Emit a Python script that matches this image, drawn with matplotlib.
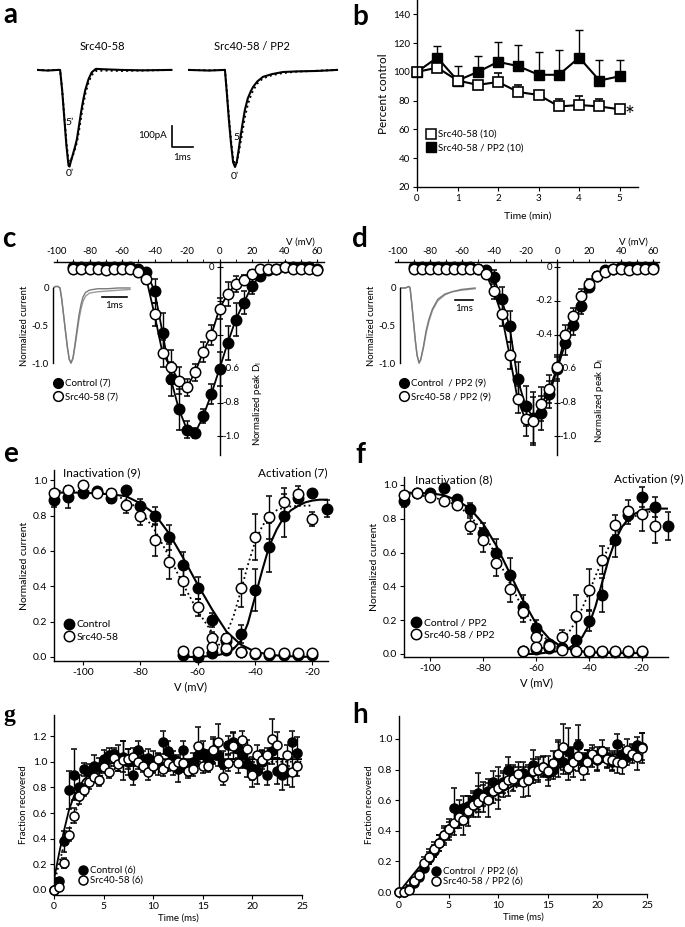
import numpy as np
import matplotlib.pyplot as plt
from matplotlib.lines import Line2D
from matplotlib.ticker import MultipleLocator, FormatStrFormatter

plt.rcParams['font.family'] = ['Lato', 'DejaVu Sans']
plt.rcParams['axes.unicode_minus'] = False
plt.rcParams['axes.linewidth'] = 1.0

# ---------------- data ----------------
# a: example currents (ms, pA), 0' solid and 5' dotted
a_t = [0, 0.5, 1.0, 1.1, 1.2, 1.3, 1.4, 1.5, 1.55, 1.6, 1.7, 1.8, 1.9, 2.0, 2.1, 2.2, 2.3, 2.45, 2.6, 2.8, 3.2, 4.0, 5.0, 6.4]
a_i0 = [0, -3, 0, 0, -100, -230, -360, -455, -460, -440, -405, -370, -330, -265, -200, -143, -95, -45, -12, 5, 3, 0, -2, 0]
a_i5 = [0, -2, 0, 0, -95, -220, -345, -430, -438, -432, -410, -380, -345, -290, -225, -165, -115, -60, -25, -5, -3, -5, -3, 0]
pp2_t = [0, 1.0, 1.76, 1.85, 1.95, 2.05, 2.15, 2.24, 2.32, 2.4, 2.48, 2.6, 2.71, 2.85, 3.0, 3.1, 3.3, 3.57, 4.0, 4.52, 5.2, 6.14, 7.1]
pp2_i0 = [0, -3, 0, -110, -240, -350, -440, -462, -440, -390, -333, -255, -190, -135, -100, -81, -55, -33, -20, -10, -7, -5, 0]
pp2_i5 = [0, -2, 0, -100, -225, -335, -425, -450, -440, -405, -360, -290, -225, -165, -120, -98, -65, -40, -25, -15, -8, -4, 0]

# b: percent control over time
b_t = [0, 0.5, 1, 1.5, 2, 2.5, 3, 3.5, 4, 4.5, 5]
b_src = [100, 103, 94, 91, 93, 86, 84, 76, 77, 76, 74]
b_src_err = [0, 0, 0, 0, 6, 5, 0, 5, 6, 5, 3]
b_pp2 = [100, 110, 94, 100, 107, 104, 98, 98, 110, 94, 97]
b_pp2_err = [0, 8, 10, 11, 14, 15, 16, 17, 19, 14, 11]

# c, d: I-V relations
iv_v = list(range(-90, 65, 5))
iv_yticks = [0, -0.2, -0.4, -0.6, -0.8, -1.0]
c_ylabels = ['0', '', '', '-0.6', '-0.8', '-1.0']
d_ylabels = ['0', '-0.2', '-0.4', '-0.6', '-0.8', '-1.0']
c_ctrl = [0, 0, 0, 0, 0, 0, 0, 0, -0.01, -0.03, -0.14, -0.39, -0.66, -0.84, -0.96, -0.98, -0.88, -0.75,
          -0.60, -0.45, -0.31, -0.21, -0.11, -0.05, -0.02, -0.01, 0, 0, 0, 0, -0.01]
c_ctrl_err = [0, 0, 0, 0, 0, 0, 0, 0, 0.01, 0.02, 0.07, 0.12, 0.10, 0.12, 0.05, 0.03, 0.04, 0.06,
              0.10, 0.10, 0.10, 0.07, 0.05, 0.02, 0.01, 0, 0, 0, 0, 0, 0]
c_src = [-0.01, -0.01, -0.01, -0.01, -0.02, -0.01, -0.01, -0.01, -0.03, -0.07, -0.28, -0.51, -0.59, -0.67,
         -0.71, -0.62, -0.50, -0.40, -0.245, -0.16, -0.10, -0.075, -0.04, -0.01, -0.01, -0.01, 0, -0.01,
         -0.01, -0.01, -0.02]
c_src_err = [0, 0, 0, 0, 0, 0, 0, 0, 0.01, 0.03, 0.07, 0.08, 0.10, 0.08, 0.05, 0.05, 0.06, 0.06,
             0.06, 0.07, 0.05, 0.03, 0.02, 0, 0, 0, 0, 0, 0, 0, 0]
d_ctrl = [0, 0, 0, 0, 0, 0, 0, 0, -0.01, -0.02, -0.06, -0.19, -0.35, -0.66, -0.82, -0.89, -0.86, -0.75,
          -0.60, -0.45, -0.34, -0.23, -0.12, -0.05, -0.02, -0.01, 0, 0, 0, 0, 0]
d_ctrl_err = [0, 0, 0, 0, 0, 0, 0, 0, 0.01, 0.02, 0.04, 0.07, 0.09, 0.10, 0.12, 0.15, 0.10, 0.08,
              0.07, 0.07, 0.06, 0.05, 0.03, 0.02, 0.01, 0, 0, 0, 0, 0, 0]
d_src = [-0.01, -0.01, -0.01, -0.01, -0.01, -0.01, -0.01, -0.01, -0.01, -0.04, -0.14, -0.28, -0.52, -0.78,
         -0.90, -0.91, -0.81, -0.72, -0.59, -0.40, -0.29, -0.17, -0.10, -0.05, -0.03, -0.01, -0.01, -0.02,
         -0.01, -0.01, -0.01]
d_src_err = [0, 0, 0, 0, 0, 0, 0, 0, 0.01, 0.02, 0.05, 0.07, 0.08, 0.08, 0.10, 0.14, 0.10, 0.08,
             0.07, 0.06, 0.05, 0.04, 0.03, 0.02, 0.01, 0, 0, 0, 0, 0, 0]

# insets of c, d (ms, normalized)
ci_t = [0, 0.1, 0.2, 0.28, 0.35, 0.42, 0.5, 0.58, 0.65, 0.72, 0.8, 0.88, 0.96, 1.04, 1.12, 1.2, 1.3, 1.45, 1.6, 1.8, 2.2, 2.6, 3.08]
ci_1 = [0, 0.02, 0.02, 0, -0.15, -0.35, -0.58, -0.8, -0.95, -1.0, -0.93, -0.75, -0.55, -0.36, -0.22, -0.12, -0.06, -0.03, -0.02, -0.01, -0.01, 0, 0]
ci_2 = [0, 0.02, 0.02, 0, -0.15, -0.35, -0.58, -0.8, -0.95, -1.0, -0.94, -0.78, -0.6, -0.42, -0.28, -0.18, -0.11, -0.07, -0.06, -0.05, -0.04, -0.03, -0.02]
di_t = [0, 0.3, 0.5, 0.56, 0.65, 0.75, 0.85, 0.95, 1.06, 1.15, 1.3, 1.45, 1.6, 1.8, 2.1, 2.5, 2.9, 3.4, 4.17]
di_1 = [0, 0, 0.02, 0, -0.2, -0.45, -0.7, -0.9, -1.0, -0.95, -0.78, -0.57, -0.42, -0.28, -0.15, -0.08, -0.05, -0.02, 0]
di_2 = [0, 0, 0.02, 0, -0.2, -0.45, -0.7, -0.9, -1.0, -0.96, -0.8, -0.6, -0.45, -0.3, -0.17, -0.09, -0.05, -0.03, -0.01]

# e, f: inactivation / activation
inact_v = list(range(-110, -15, 5))
e_inact_ctrl = [0.89, 0.905, 0.93, 0.94, 0.90, 0.943, 0.853, 0.796, 0.677, 0.523, 0.39, 0.208, 0.09, 0.03, 0.015, 0.01, 0.01, 0.01, 0.01]
e_inact_ctrl_err = [0.04, 0.06, 0, 0, 0.03, 0, 0.04, 0.05, 0.07, 0.07, 0.06, 0.04, 0.02, 0, 0, 0, 0, 0, 0]
e_inact_src = [0.93, 0.947, 0.975, 0.93, 0.93, 0.862, 0.796, 0.664, 0.54, 0.43, 0.28, 0.11, 0.05, 0.03, 0.02, 0.02, 0.022, 0.022, 0.02]
e_inact_src_err = [0, 0, 0, 0.02, 0.02, 0.05, 0.05, 0.09, 0.10, 0.08, 0.05, 0.03, 0, 0, 0, 0, 0, 0, 0]
e_act_v = list(range(-65, -10, 5))
e_act_ctrl = [0.01, 0.0, 0.02, 0.04, 0.13, 0.38, 0.62, 0.80, 0.90, 0.925, 0.84]
e_act_ctrl_err = [0, 0, 0, 0.02, 0.05, 0.12, 0.14, 0.12, 0.0, 0.02, 0.05]
e_act_src = [0.036, 0.03, 0.055, 0.11, 0.39, 0.68, 0.79, 0.877, 0.92, 0.78]
e_act_src_err = [0, 0, 0, 0.02, 0.11, 0.13, 0.12, 0.08, 0.05, 0.04]
e_fit_inact_ctrl = [0.93, 0.93, 0.93, 0.925, 0.92, 0.91, 0.87, 0.81, 0.70, 0.56, 0.41, 0.27, 0.145, 0.07, 0.03, 0.013, 0.005, 0.002, 0.0]
e_fit_inact_src = [0.94, 0.94, 0.94, 0.935, 0.92, 0.89, 0.83, 0.72, 0.57, 0.41, 0.26, 0.14, 0.07, 0.03, 0.01, 0.005, 0.0, 0.0, 0.0]
e_fit_act_v = [-65, -62.5, -60, -57.5, -55, -52.5, -50, -47.5, -45, -42.5, -40, -37.5, -35, -32.5, -30, -27.5, -25, -22.5, -20, -17.5, -15]
e_fit_act_ctrl = [0.0, 0.0, 0.0, 0.003, 0.006, 0.012, 0.022, 0.045, 0.09, 0.19, 0.34, 0.49, 0.63, 0.72, 0.79, 0.83, 0.855, 0.875, 0.885, 0.89, 0.89]
e_fit_act_src = [0.0, 0.003, 0.006, 0.015, 0.035, 0.07, 0.13, 0.23, 0.37, 0.52, 0.65, 0.74, 0.80, 0.83, 0.845, 0.852, 0.855, 0.856, 0.857]

f_inact_ctrl = [0.907, 0.95, 0.955, 0.98, 0.915, 0.856, 0.714, 0.60, 0.467, 0.28, 0.152, 0.06, 0.037, 0.015, 0.01, 0.01, 0.01, 0.01, 0.01]
f_inact_ctrl_err = [0.04, 0, 0, 0, 0, 0.04, 0.06, 0.08, 0.10, 0.07, 0.05, 0.02, 0.02, 0, 0, 0, 0, 0, 0]
f_inact_src = [0.94, 0.95, 0.93, 0.907, 0.88, 0.757, 0.675, 0.54, 0.387, 0.25, 0.10, 0.04, 0.025, 0.015, 0.015, 0.015, 0.015, 0.015, 0.015]
f_inact_src_err = [0, 0, 0, 0, 0, 0.05, 0.07, 0.08, 0.08, 0.06, 0.04, 0.03, 0, 0, 0, 0, 0, 0, 0]
f_act_v = list(range(-65, -5, 5))
f_act_ctrl = [0.02, 0.03, 0.035, 0.037, 0.083, 0.197, 0.35, 0.675, 0.82, 0.927, 0.87, 0.757]
f_act_ctrl_err = [0, 0, 0, 0.01, 0.02, 0.06, 0.10, 0.10, 0.05, 0.06, 0.06, 0.08]
f_act_src = [0.02, 0.04, 0.047, 0.10, 0.227, 0.38, 0.556, 0.763, 0.848, 0.83, 0.757]
f_act_src_err = [0, 0, 0, 0.04, 0.12, 0.12, 0.08, 0.06, 0.06, 0.10, 0.10]
f_fit_inact_ctrl = [0.955, 0.953, 0.95, 0.94, 0.91, 0.86, 0.77, 0.64, 0.48, 0.32, 0.18, 0.09, 0.04, 0.02, 0.01, 0.007, 0.005, 0.005, 0.005]
f_fit_inact_src = [0.95, 0.94, 0.93, 0.91, 0.88, 0.82, 0.72, 0.58, 0.42, 0.27, 0.15, 0.07, 0.03, 0.015, 0.012, 0.01, 0.01, 0.01, 0.01]
f_fit_act_v = [-65, -62.5, -60, -57.5, -55, -52.5, -50, -47.5, -45, -42.5, -40, -37.5, -35, -32.5, -30, -27.5, -25, -22.5, -20, -17.5, -15, -12.5, -10]
f_fit_act_ctrl = [0.0, 0.0, 0.0, 0.005, 0.01, 0.015, 0.022, 0.035, 0.06, 0.10, 0.17, 0.28, 0.42, 0.56, 0.67, 0.75, 0.80, 0.83, 0.85, 0.855, 0.86, 0.86, 0.86]
f_fit_act_src = [0.02, 0.025, 0.03, 0.035, 0.045, 0.06, 0.085, 0.13, 0.19, 0.27, 0.36, 0.46, 0.55, 0.63, 0.70, 0.75, 0.79, 0.815, 0.83, 0.84, 0.845]

# g, h: recovery from inactivation
rec_t = np.arange(0, 25, 0.5)
g_ctrl = [0.00, 0.07, 0.38, 0.78, 0.90, 0.80, 0.94, 0.92, 0.97, 0.96,
          1.02, 1.05, 1.06, 1.03, 1.04, 1.00, 0.90, 1.09, 1.02, 1.03,
          1.00, 0.98, 1.15, 1.08, 1.02, 0.94, 1.09, 0.95, 1.00, 1.05,
          1.07, 1.02, 1.08, 1.05, 0.98, 1.13, 1.15, 1.10, 1.05, 0.98,
          0.95, 0.93, 1.00, 0.90, 1.08, 0.93, 0.90, 0.92, 1.15, 1.07]
g_ctrl_err = [0, 0.02, 0.08, 0.15, 0.20, 0.10, 0.05, 0.06, 0.08, 0.07,
              0.07, 0.06, 0.05, 0.10, 0.12, 0.10, 0.08, 0.07, 0.06, 0.07,
              0.08, 0.08, 0.09, 0.08, 0.06, 0.10, 0.07, 0.06, 0.07, 0.08,
              0.09, 0.07, 0.10, 0.08, 0.10, 0.07, 0.08, 0.07, 0.10, 0.10,
              0.09, 0.10, 0.09, 0.08, 0.10, 0.10, 0.12, 0.10, 0.09, 0.12]
g_src = [0.00, 0.02, 0.21, 0.43, 0.58, 0.73, 0.78, 0.84, 0.88, 0.86,
         0.96, 0.92, 1.03, 0.98, 1.01, 1.02, 1.04, 1.00, 0.97, 0.92,
         0.97, 1.02, 0.94, 0.99, 0.97, 1.00, 0.99, 0.93, 0.94, 1.12,
         0.97, 0.97, 1.09, 1.15, 0.88, 0.99, 1.12, 0.99, 1.17, 1.10,
         0.90, 1.05, 1.01, 1.05, 1.18, 1.13, 0.95, 1.05, 0.92, 0.97]
g_src_err = [0, 0.01, 0.04, 0.05, 0.06, 0.06, 0.05, 0.05, 0.04, 0.05,
             0.05, 0.05, 0.06, 0.05, 0.15, 0.08, 0.07, 0.06, 0.05, 0.06,
             0.06, 0.05, 0.05, 0.06, 0.07, 0.05, 0.07, 0.06, 0.05, 0.15,
             0.06, 0.05, 0.10, 0.14, 0.06, 0.06, 0.10, 0.08, 0.07, 0.07,
             0.10, 0.08, 0.07, 0.06, 0.15, 0.10, 0.07, 0.08, 0.12, 0.08]
g_fit_t = [0, 0.5, 1, 1.5, 2, 2.5, 3, 4, 5, 6, 7, 8, 10, 12, 15, 20, 25]
g_fit_ctrl = [0.08, 0.28, 0.46, 0.62, 0.73, 0.80, 0.86, 0.93, 0.97, 0.99, 1.0, 1.01, 1.02, 1.02, 1.02, 1.02, 1.02]
g_fit_src = [0.05, 0.2, 0.35, 0.47, 0.58, 0.67, 0.74, 0.84, 0.9, 0.94, 0.97, 0.98, 1.0, 1.0, 1.0, 1.0, 1.0]

h_ctrl = [0.00, 0.00, 0.02, 0.06, 0.10, 0.16, 0.22, 0.27, 0.32, 0.37,
          0.41, 0.55, 0.52, 0.55, 0.56, 0.60, 0.65, 0.63, 0.66, 0.72,
          0.68, 0.72, 0.80, 0.76, 0.76, 0.78, 0.76, 0.83, 0.80, 0.82,
          0.78, 0.80, 0.87, 0.85, 0.92, 0.87, 0.96, 0.85, 0.88, 0.88,
          0.86, 0.90, 0.88, 0.85, 0.97, 0.90, 0.88, 0.92, 0.96, 0.95]
h_ctrl_err = [0, 0, 0.01, 0.02, 0.03, 0.03, 0.04, 0.04, 0.05, 0.05,
              0.05, 0.13, 0.08, 0.08, 0.07, 0.06, 0.13, 0.07, 0.08, 0.07,
              0.14, 0.07, 0.08, 0.07, 0.06, 0.07, 0.06, 0.10, 0.07, 0.06,
              0.05, 0.06, 0.12, 0.08, 0.15, 0.07, 0.13, 0.06, 0.05, 0.06,
              0.06, 0.05, 0.06, 0.06, 0.06, 0.06, 0.05, 0.05, 0.05, 0.09]
h_src = [0.00, 0.00, 0.01, 0.07, 0.11, 0.19, 0.23, 0.28, 0.32, 0.37,
         0.41, 0.45, 0.49, 0.47, 0.53, 0.57, 0.59, 0.62, 0.60, 0.66,
         0.68, 0.70, 0.73, 0.74, 0.77, 0.72, 0.73, 0.79, 0.80, 0.82,
         0.79, 0.84, 0.90, 0.95, 0.81, 0.85, 0.89, 0.80, 0.85, 0.90,
         0.87, 0.92, 0.87, 0.86, 0.85, 0.84, 0.93, 0.90, 0.88, 0.94]
h_src_err = [0, 0, 0.01, 0.02, 0.03, 0.04, 0.05, 0.05, 0.05, 0.06,
             0.07, 0.08, 0.07, 0.10, 0.10, 0.08, 0.10, 0.10, 0.11, 0.08,
             0.08, 0.08, 0.10, 0.08, 0.08, 0.10, 0.10, 0.08, 0.08, 0.07,
             0.10, 0.08, 0.08, 0.15, 0.08, 0.10, 0.10, 0.07, 0.08, 0.06,
             0.08, 0.07, 0.06, 0.06, 0.07, 0.07, 0.07, 0.06, 0.08, 0.10]
h_fit_t = [0, 1, 2, 3, 4, 5, 6, 7, 8, 9, 10, 12, 14, 16, 18, 20, 22, 25]
h_fit_ctrl = [0.0, 0.08, 0.16, 0.24, 0.31, 0.38, 0.44, 0.5, 0.55, 0.6, 0.64, 0.71, 0.77, 0.81, 0.85, 0.88, 0.90, 0.93]
h_fit_src = [0.0, 0.06, 0.14, 0.22, 0.29, 0.36, 0.42, 0.48, 0.53, 0.58, 0.62, 0.69, 0.75, 0.80, 0.84, 0.87, 0.89, 0.92]

# ---------------- layout helpers ----------------
W, H = 685, 927
fig = plt.figure(figsize=(W / 100, H / 100), dpi=100)


def box(x0, y0, x1, y1):
    return [x0 / W, 1 - y1 / H, (x1 - x0) / W, (y1 - y0) / H]


def fx(x):
    return x / W


def fy(y):
    return 1 - y / H


def plain(ax, fs):
    ax.spines['top'].set_visible(False)
    ax.spines['right'].set_visible(False)
    ax.tick_params(direction='out', length=3, width=0.8, labelsize=fs, pad=2)


def pts(ax, x, y, err, filled, ms, line=False, lw=1.3):
    ax.errorbar(x, y, yerr=err, fmt='-o' if line else 'o', color='k', lw=lw,
                mfc='k' if filled else 'white', mec='k', ms=ms, mew=1.1,
                elinewidth=1, capsize=2.5, capthick=1, clip_on=False, zorder=4 if filled else 5)


def legend(labels, x, y, ms, fs, sp):
    hs = [Line2D([], [], marker='o', ls='none', mfc='k', mec='k', ms=ms),
          Line2D([], [], marker='o', ls='none', mfc='white', mec='k', ms=ms, mew=1.1)]
    fig.legend(hs, labels, loc='upper left', bbox_to_anchor=(fx(x), fy(y)), frameon=False,
               fontsize=fs, handlelength=1.0, handletextpad=0.2, borderpad=0, borderaxespad=0,
               labelspacing=sp)


for lab, x, y, fam, fs in [('a', 3, 23, None, 20), ('b', 352, 25, None, 20), ('c', 2, 247, None, 20),
                           ('d', 352, 247, None, 20), ('e', 3, 462, None, 20), ('f', 355, 463, None, 20),
                           ('g', 3, 721, 'Liberation Serif', 17), ('h', 352, 723, None, 20)]:
    kw = {'family': fam} if fam else {}
    fig.text(fx(x), fy(y), lab, fontsize=fs, fontweight='bold', va='baseline', **kw)

# ---------------- a ----------------
axa1 = fig.add_axes(box(37, 55, 200, 180))
axa2 = fig.add_axes(box(188, 55, 345, 180))
for ax in (axa1, axa2):
    ax.set_ylim(-524, 71)
    ax.axis('off')
axa1.set_xlim(0, 7.76)
axa2.set_xlim(0, 7.48)
axa1.plot(a_t, a_i5, color='k', ls=':', lw=1.4)
axa1.plot(a_t, a_i0, color='k', lw=1.5)
axa2.plot(pp2_t, pp2_i5, color='k', ls=':', lw=1.4)
axa2.plot(pp2_t, pp2_i0, color='k', lw=1.5)
axa1.plot([6.43, 6.43, 7.43], [-267, -367, -367], color='k', lw=1.2, clip_on=False)
axa1.text(6.2, -314, '100pA', ha='right', va='center', fontsize=7)
axa1.text(6.93, -418, '1ms', ha='center', va='center', fontsize=7)
axa1.text(1.57, -252, '5\u2019', ha='center', va='center', fontsize=7.5)
axa1.text(1.57, -495, '0\u2019', ha='center', va='center', fontsize=7.5)
axa2.text(2.35, -324, '5\u2019', ha='center', va='center', fontsize=7.5)
axa2.text(2.24, -505, '0\u2019', ha='center', va='center', fontsize=7.5)
fig.text(fx(102), fy(47), 'Src40-58', ha='center', va='center', fontsize=8)
fig.text(fx(252), fy(47), 'Src40-58 / PP2', ha='center', va='center', fontsize=8)

# ---------------- b ----------------
axb = fig.add_axes(box(417, 0, 638, 187))
plain(axb, 7)
zeros = [0] * len(b_t)
axb.errorbar(b_t, b_pp2, yerr=[zeros, b_pp2_err], fmt='-s', color='k', mfc='k', mec='k', ms=6.5,
             lw=1.5, elinewidth=1, capsize=3, capthick=1, clip_on=False)
axb.errorbar(b_t, b_src, yerr=[zeros, b_src_err], fmt='-s', color='k', mfc='white', mec='k', ms=6.5,
             mew=1.2, lw=1.5, elinewidth=1, capsize=3, capthick=1, clip_on=False)
axb.set_xlim(0, 5.45)
axb.set_ylim(20, 150)
axb.set_xticks([0, 1, 2, 3, 4, 5])
axb.set_yticks(range(20, 141, 20))
axb.set_ylabel('Percent control', fontsize=8.5, labelpad=3)
axb.set_xlabel('Time (min)', fontsize=7.5, labelpad=6)
axb.text(5.25, 70, '*', fontsize=17, ha='center', va='center')
hb = [Line2D([], [], marker='s', ls='none', mfc='white', mec='k', ms=6.5, mew=1.1),
      Line2D([], [], marker='s', ls='none', mfc='k', mec='k', ms=6.5)]
fig.legend(hb, ['Src40-58 (10)', 'Src40-58 / PP2 (10)'], loc='upper left',
           bbox_to_anchor=(fx(427), fy(130)), frameon=False, fontsize=7, handlelength=0.9,
           handletextpad=0.2, borderpad=0, borderaxespad=0, labelspacing=0.45)


# ---------------- c, d ----------------
def iv_panel(rect, ctrl, ctrl_err, src, src_err, ylabels, inset_rect, ins_xmax, ins_t, ins_1, ins_2, bar, vlab, dlab):
    ax = fig.add_axes(rect)
    ax.set_xlim(-102, 64)
    ax.set_ylim(-1.11, 0.03)
    ax.spines['right'].set_visible(False)
    ax.spines['bottom'].set_visible(False)
    ax.spines['left'].set_position(('data', 0))
    ax.xaxis.set_ticks_position('top')
    ax.set_xticks(range(-100, 61, 20))
    ax.xaxis.set_minor_locator(MultipleLocator(10))
    ax.tick_params(axis='x', which='both', direction='out', length=2.5, labelsize=7, pad=1.5)
    ax.set_yticks(iv_yticks)
    ax.tick_params(axis='y', direction='inout', length=4, labelleft=False)
    for v, lab in zip(iv_yticks, ylabels):
        if v > -0.5:
            ax.text(-3, v, lab, ha='right', va='center', fontsize=7, zorder=1)
        else:
            ax.text(1.5, v, lab, ha='left', va='center', fontsize=7, zorder=1)
    pts(ax, iv_v, ctrl, ctrl_err, True, 7.5, line=True)
    pts(ax, iv_v, src, src_err, False, 7.5, line=True)
    fig.text(fx(vlab[0]), fy(vlab[1]), 'V (mV)', ha='center', va='center', fontsize=7)
    fig.text(fx(dlab[0]), fy(dlab[1]), 'Normalized peak D$_\\mathrm{I}$', rotation=90,
             ha='center', va='center', fontsize=7)

    ai = fig.add_axes(inset_rect)
    ai.set_xlim(0, ins_xmax)
    ai.set_ylim(-1.053, 0.053)
    for s in ('top', 'right', 'bottom'):
        ai.spines[s].set_visible(False)
    ai.spines['left'].set_bounds(-1.0, 0.0)
    ai.set_xticks([])
    ai.set_yticks([0, -0.5, -1.0])
    ai.set_yticklabels(['0', '-0.5', '-1.0'])
    ai.tick_params(axis='y', length=0, labelsize=7, pad=3)
    ai.set_ylabel('Normalized current', fontsize=6.8, labelpad=2)
    ai.patch.set_alpha(0)
    ai.plot(ins_t, ins_2, color='#9a9a9a', lw=1)
    ai.plot(ins_t, ins_1, color='#7a7a7a', lw=1)
    ai.plot([bar[0], bar[0] + 1], [bar[1], bar[1]], color='k', lw=1.2)
    ai.text(bar[0] + 0.5, bar[1] - 0.12, '1ms', ha='center', va='center', fontsize=7)
    return ax


iv_panel(box(53.75, 262, 323.5, 455), c_ctrl, c_ctrl_err, c_src, c_src_err, c_ylabels,
         box(53, 284, 133, 367), 3.2, ci_t, ci_1, ci_2, (1.96, -0.12), (300, 242), (257, 403))
legend(['Control (7)', 'Src40-58 (7)'], 53, 379, 7, 7, 0.45)
iv_panel(box(394.8, 262, 659.4, 455), d_ctrl, d_ctrl_err, d_src, d_src_err, d_ylabels,
         box(400, 284, 480, 367), 4.44, di_t, di_1, di_2, (3.06, -0.16), (633, 242), (600, 400))
legend(['Control  / PP2 (9)', 'Src40-58 / PP2 (9)'], 399, 379, 7, 7, 0.45)


# ---------------- e, f ----------------
def ss_panel(rect, xlim, ylim, inact_c, inact_ce, inact_s, inact_se, act_v, act_c, act_ce, act_s, act_se,
             fic, fis, fav, fac, fas, texts, leg, leg_xy):
    ax = fig.add_axes(rect)
    plain(ax, 7.5)
    ax.set_xlim(*xlim)
    ax.set_ylim(*ylim)
    ax.set_xticks(range(-100, -19, 20))
    ax.set_yticks([0, 0.2, 0.4, 0.6, 0.8, 1.0])
    ax.yaxis.set_major_formatter(FormatStrFormatter('%.1f'))
    ax.plot(inact_v, fic, color='k', lw=1.5, zorder=3)
    ax.plot(inact_v, fis, color='k', ls=':', lw=1.3, zorder=3)
    ax.plot(fav, fac, color='k', lw=1.5, zorder=3)
    ax.plot(fav[:len(fas)], fas, color='k', ls=':', lw=1.3, zorder=3)
    pts(ax, inact_v, inact_c, inact_ce, True, 7.5)
    pts(ax, act_v, act_c, act_ce, True, 7.5)
    pts(ax, inact_v, inact_s, inact_se, False, 7.5)
    pts(ax, act_v[:len(act_s)], act_s, act_se, False, 7.5)
    ax.set_xlabel('V (mV)', fontsize=8, labelpad=3)
    ax.set_ylabel('Normalized current', fontsize=7.5, labelpad=3)
    (t1, x1, y1), (t2, x2, y2) = texts
    fig.text(fx(x1), fy(y1), t1, ha='left', va='center', fontsize=8.5)
    fig.text(fx(x2), fy(y2), t2, ha='right', va='center', fontsize=8.5)
    legend(leg, leg_xy[0], leg_xy[1], 7.5, 7.5, 0.3)


ss_panel(box(54, 470, 328, 661), (-110, -14.6), (-0.023, 1.058),
         e_inact_ctrl, e_inact_ctrl_err, e_inact_src, e_inact_src_err,
         e_act_v, e_act_ctrl, e_act_ctrl_err, e_act_src, e_act_src_err,
         e_fit_inact_ctrl, e_fit_inact_src, e_fit_act_v, e_fit_act_ctrl, e_fit_act_src,
         [('Inactivation (9)', 63, 473), ('Activation (7)', 327, 473)],
         ['Control', 'Src40-58'], (64, 620))
ss_panel(box(404, 476.5, 668, 657), (-110, -10), (-0.018, 1.05),
         f_inact_ctrl, f_inact_ctrl_err, f_inact_src, f_inact_src_err,
         f_act_v, f_act_ctrl, f_act_ctrl_err, f_act_src, f_act_src_err,
         f_fit_inact_ctrl, f_fit_inact_src, f_fit_act_v, f_fit_act_ctrl, f_fit_act_src,
         [('Inactivation (8)', 415, 480), ('Activation (9)', 683, 479)],
         ['Control / PP2', 'Src40-58 / PP2'], (411, 618))


# ---------------- g, h ----------------
def rec_panel(rect, ylim, ctrl, ctrl_err, src, src_err, fit_t, fit_c, fit_s, ytop, leg, leg_xy):
    ax = fig.add_axes(rect)
    plain(ax, 7.5)
    ax.set_xlim(0, 25)
    ax.set_ylim(*ylim)
    ax.set_xticks(range(0, 26, 5))
    ax.set_yticks(np.arange(0, ytop + 0.01, 0.2))
    ax.yaxis.set_major_formatter(FormatStrFormatter('%.1f'))
    ax.plot(fit_t, fit_c, color='k', lw=1.3, zorder=3)
    ax.plot(fit_t, fit_s, color='k', ls=':', lw=1.3, zorder=3)
    pts(ax, rec_t, ctrl, ctrl_err, True, 6.5)
    pts(ax, rec_t, src, src_err, False, 6.5)
    ax.set_xlabel('Time (ms)', fontsize=7, labelpad=2)
    ax.set_ylabel('Fraction recovered', fontsize=6.8, labelpad=3)
    legend(leg, leg_xy[0], leg_xy[1], 6.5, 7, 0.1)


rec_panel(box(54, 715, 302, 895), (-0.039, 1.364), g_ctrl, g_ctrl_err, g_src, g_src_err,
          g_fit_t, g_fit_ctrl, g_fit_src, 1.2, ['Control (6)', 'Src40-58 (6)'], (78, 866))
rec_panel(box(399, 716, 647, 894), (-0.013, 1.15), h_ctrl, h_ctrl_err, h_src, h_src_err,
          h_fit_t, h_fit_ctrl, h_fit_src, 1.0, ['Control  / PP2 (6)', 'Src40-58 / PP2 (6)'], (431, 867))

fig.savefig('out.png', dpi=100)
